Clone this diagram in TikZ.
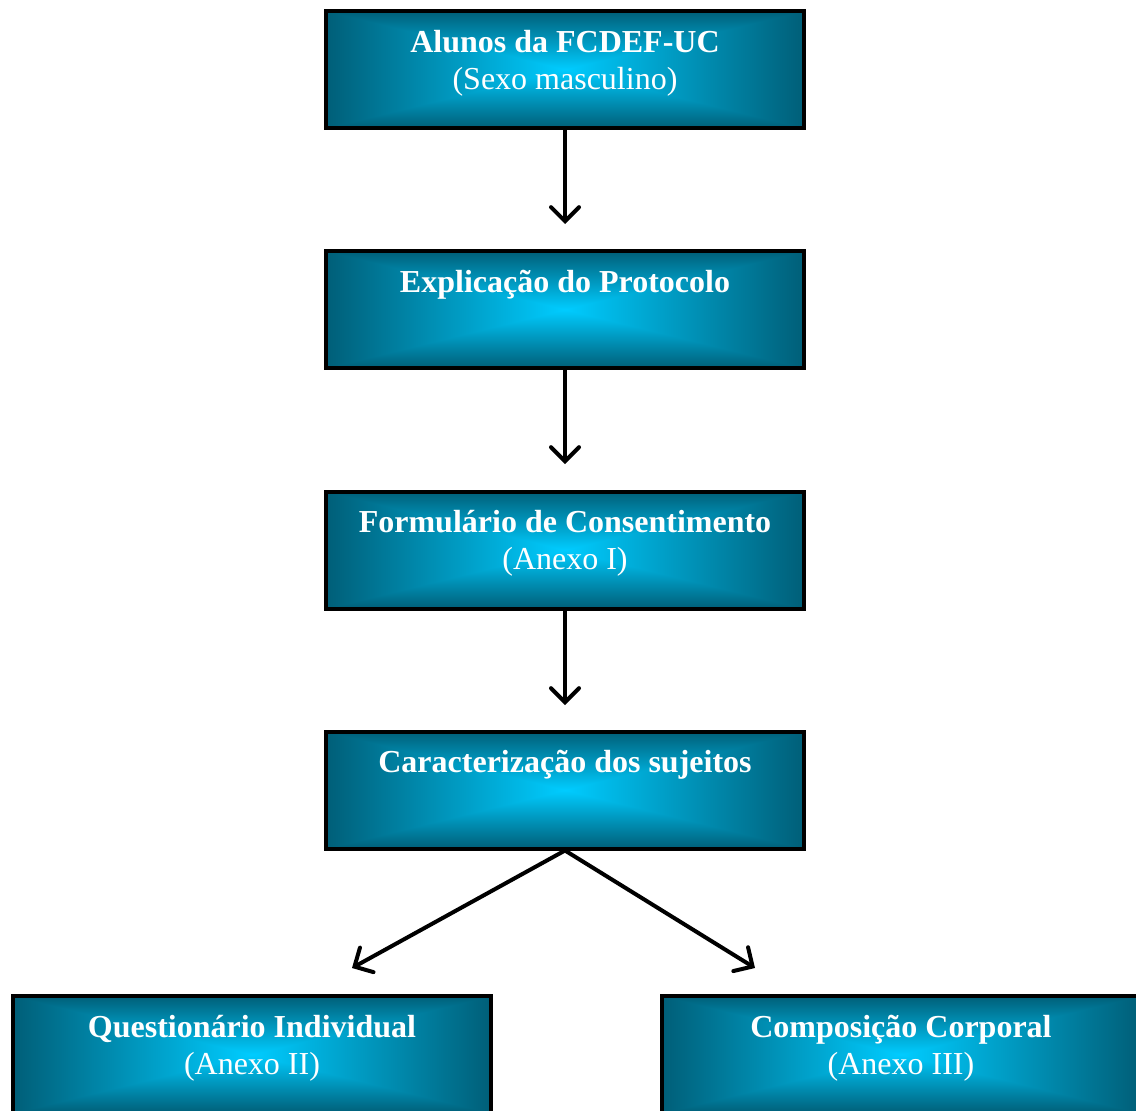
\documentclass[tikz,border=0pt]{standalone}
\usepackage{fontspec}
\setmainfont{Liberation Serif}
\usetikzlibrary{arrows.meta}
\pgfdeclarefunctionalshading{rectglow}{\pgfpoint{-50bp}{-50bp}}{\pgfpoint{50bp}{50bp}}{}{
abs exch abs 2 copy gt {pop} {exch pop} ifelse 25 div dup 1 gt {pop 1} if
dup -0.43 mul 0.80 add exch -0.53 mul 1.0 add 0 3 1 roll
}
\newcommand\twolines[2]{\parbox[c][117pt][t]{470pt}{\centering\fontsize{32}{37}\selectfont\rule{0pt}{41pt}\textbf{#1}\\#2}}
\newcommand\oneline[1]{\parbox[c][117pt][t]{470pt}{\centering\fontsize{32}{37}\selectfont\rule{0pt}{41pt}\textbf{#1}}}
\tikzset{
  stage/.style={draw=black, line width=4pt, shade, shading=rectglow, inner sep=0pt,
    minimum width=478pt, minimum height=117pt, text=white},
  flow/.style={line width=4pt, -{Straight Barb[length=14pt,width=28pt,line cap=round]}}
}
\begin{document}
\begin{tikzpicture}[x=1pt,y=-1pt]
\useasboundingbox (0,0) rectangle (1136,1111);
\clip (0,0) rectangle (1136,1111);
\node[stage] (b1) at (565,69.5) {\twolines{Alunos da FCDEF-UC}{(Sexo masculino)}};
\node[stage] (b2) at (565,309.5) {\oneline{Explicação do Protocolo}};
\node[stage] (b3) at (565,550) {\twolines{Formulário de Consentimento}{(Anexo I)}};
\node[stage] (b4) at (565,790) {\oneline{Caracterização dos sujeitos}};
\node[stage] (b5) at (252,1054.5) {\twolines{Questionário Individual}{(Anexo II)}};
\node[stage] (b6) at (901,1054.5) {\twolines{Composição Corporal}{(Anexo III)}};
\coordinate (e1) at (565,224);
\coordinate (e2) at (565,464);
\coordinate (e3) at (565,705);
\coordinate (e4) at (352,968);
\coordinate (e5) at (755,968);
\draw[flow] (b1.south) -- (e1);
\draw[flow] (b2.south) -- (e2);
\draw[flow] (b3.south) -- (e3);
\draw[flow] (b4.south) -- (e4);
\draw[flow] (b4.south) -- (e5);
\end{tikzpicture}
\end{document}
